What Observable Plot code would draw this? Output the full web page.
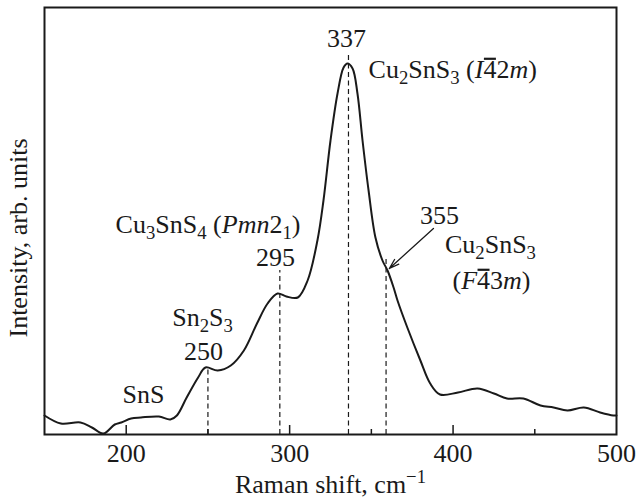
<!DOCTYPE html>
<html><head><meta charset="utf-8">
<script src="https://cdn.jsdelivr.net/npm/d3@7"></script>
<script src="https://cdn.jsdelivr.net/npm/@observablehq/plot@0.6"></script>
<style>body{margin:0;background:#fff} svg{display:block}</style>
</head><body><div id="chart"></div>
<script>
// ---- data ----
const shift = [150,160,172,179,186,193,197,203,209,220,227,231,237,244,248.5,256,264,272,280,286.5,292.6,298,305,311,317,320.7,325,329.3,333,335.4,338.5,341.5,344.6,348.3,352.5,356.8,359.9,363.6,366,372,380,386,392,403,415,425,433,443,453.5,461.5,470,480,490,498,500];
const intensity = [19,11,12,7,1,10,12,16,17,18,15,19,37,57,67,64,69,84,111,131,141,138,137,154,194,234,294,341,367,371,366,341,294,244,197,174,164,147,134,107,74,51,40,42,46,41,36,36,29,27,24,27,22,19,19];

const majorTicks = [200,300,400,500];
const minorTicks = [250,350,450];

const peakShift = [250,294,336,359];
const peakTop = [67,164,381,176];

const annText = ["337","Cu<sub>2</sub>SnS<sub>3</sub> (<i>I</i><o>4</o>2<i>m</i>)","Cu<sub>3</sub>SnS<sub>4</sub> (<i>Pmn</i>2<sub>1</sub>)","295","Sn<sub>2</sub>S<sub>3</sub>","250","SnS","355","Cu<sub>2</sub>SnS<sub>3</sub>","(<i>F</i><o>4</o>3<i>m</i>)"];
const annX = [334.8,348.3,193.5,291.4,246.7,247.3,210.6,391.7,422.9,423.5];
const annY = [388,357,202,169,109,75,32,211,182,146];
const annAnchor = ["middle","start","start","middle","middle","middle","middle","middle","middle","middle"];

const arrowFromX = [388], arrowFromY = [206];
const arrowToX = [361], arrowToY = [166];

const xTitle = "Raman shift, cm<sup>\u22121</sup>";
const yTitle = "Intensity, arb. units";

// ---- build ----
const FS = 26;
const FONT = "'Liberation Serif', 'Times New Roman', serif";
const INK = "#1a1a1a";
const spectrum = shift.map((s,i)=>({s, v: intensity[i]}));
const peaks = peakShift.map((s,i)=>({s, top: peakTop[i]}));
const anns = annText.map((m,i)=>({m, x: annX[i], y: annY[i], a: annAnchor[i]}));
const plain = m => m.replace(/<[^>]+>/g, "");
const annMid = anns.filter(d=>d.a==="middle");
const annStart = anns.filter(d=>d.a==="start");
const arrows = arrowFromX.map((x,i)=>({x1:x, y1:arrowFromY[i], x2:arrowToX[i], y2:arrowToY[i]}));

const chart = Plot.plot({
  width: 640, height: 499,
  marginLeft: 44, marginRight: 24, marginTop: 7, marginBottom: 65,
  style: {fontFamily: FONT, fontSize: FS+"px", color: INK, background: "#fff"},
  x: {domain: [150,500]},
  y: {domain: [0,427], axis: null},
  marks: [
    Plot.ruleX(peaks, {x:"s", y1:0, y2:"top", stroke: INK, strokeWidth:1.2, strokeDasharray:"5,3.5"}),
    Plot.ruleX(majorTicks.slice(0,3), {y1:0, y2:9, stroke: INK, strokeWidth:1.5}),
    Plot.ruleX(minorTicks, {y1:0, y2:5, stroke: INK, strokeWidth:1.5}),
    Plot.line(spectrum, {x:"s", y:"v", curve:"catmull-rom", stroke: INK, strokeWidth:2}),
    Plot.frame({stroke: INK, strokeWidth: 2}),
    Plot.axisX({ticks: majorTicks, tickSize: 0, tickPadding: 9, fontSize: FS, tickFormat: d=>String(d), fill: INK}),
    Plot.arrow(arrows, {x1:"x1", y1:"y1", x2:"x2", y2:"y2", stroke: INK, strokeWidth:1.3, headLength: 12, headAngle: 35}),
    Plot.text(annMid, {x:"x", y:"y", text: d=>plain(d.m), textAnchor:"middle", lineAnchor:"bottom", fontSize: FS, fill: INK, className:"ann-mid"}),
    Plot.text(annStart, {x:"x", y:"y", text: d=>plain(d.m), textAnchor:"start", lineAnchor:"bottom", fontSize: FS, fill: INK, className:"ann-start"}),
    Plot.text([xTitle], {frameAnchor:"bottom", dy: 58, text: d=>plain(d), textAnchor:"middle", lineAnchor:"bottom", fontSize: FS, fill: INK, className:"xtitle"}),
    Plot.text([yTitle], {frameAnchor:"left", dx: -18, dy: 17, rotate: -90, text: d=>d, textAnchor:"middle", lineAnchor:"bottom", fontSize: FS, fill: INK})
  ]
});

const SVGNS = "http://www.w3.org/2000/svg";
function richify(el, markup, fs) {
  while (el.firstChild) el.removeChild(el.firstChild);
  const st = {sub:false, sup:false, i:false, o:false};
  let cur = 0;
  for (const p of markup.split(/(<\/?(?:sub|sup|i|o)>)/)) {
    const m = p.match(/^<(\/?)(sub|sup|i|o)>$/);
    if (m) { st[m[2]] = !m[1]; continue; }
    if (!p) continue;
    const t = document.createElementNS(SVGNS, "tspan");
    t.textContent = p;
    const target = st.sub ? 0.25*fs : st.sup ? -0.38*fs : 0;
    if (target !== cur) { t.setAttribute("dy", target - cur); cur = target; }
    if (st.sub || st.sup) t.setAttribute("font-size", 0.72*fs);
    if (st.i) t.setAttribute("font-style", "italic");
    if (st.o) t.setAttribute("data-overline", "1");
    el.appendChild(t);
  }
}
const svgEl = chart.tagName === "svg" ? chart : chart.querySelector("svg");
const svg = d3.select(svgEl);
svg.selectAll("g.ann-mid text").each(function(_, i){ richify(this, annMid[i].m, FS); });
svg.selectAll("g.ann-start text").each(function(_, i){ richify(this, annStart[i].m, FS); });
svg.selectAll("g.xtitle text").each(function(){ richify(this, xTitle, FS); });

document.getElementById("chart").appendChild(chart);

// overlines over the marked characters (drawn after layout)
svg.selectAll("tspan[data-overline]").each(function(){
  const text = this.parentNode;
  const n = this.getNumberOfChars();
  const a = this.getStartPositionOfChar(0);
  const b = this.getEndPositionOfChar(n-1);
  const yb = a.y - 0.72*FS;
  const line = document.createElementNS(SVGNS, "line");
  line.setAttribute("x1", a.x + 0.5); line.setAttribute("x2", b.x - 0.5);
  line.setAttribute("y1", yb); line.setAttribute("y2", yb);
  line.setAttribute("stroke", INK); line.setAttribute("stroke-width", 2.2);
  const tr = text.getAttribute("transform");
  if (tr) line.setAttribute("transform", tr);
  text.parentNode.appendChild(line);
});
</script></body></html>
